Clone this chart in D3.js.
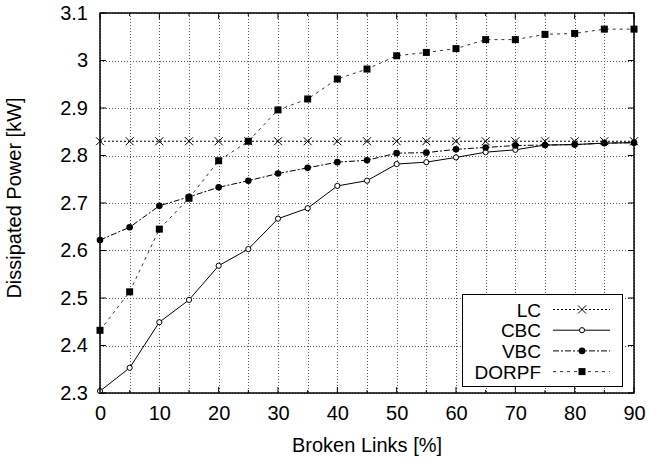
<!DOCTYPE html>
<html>
<head>
<meta charset="utf-8">
<script src="https://cdn.jsdelivr.net/npm/d3@7"></script>
<style>
  body { margin: 0; background: #fff; }
  svg { display: block; font-family: "Liberation Sans", Arial, Helvetica, sans-serif; }
</style>
</head>
<body>
<div id="chart"></div>
<script>
// data
const brokenLinks = [0, 5, 10, 15, 20, 25, 30, 35, 40, 45, 50, 55, 60, 65, 70, 75, 80, 85, 90];
const lcPower    = [2.83, 2.83, 2.83, 2.83, 2.83, 2.83, 2.83, 2.83, 2.83, 2.83, 2.83, 2.83, 2.83, 2.83, 2.83, 2.83, 2.83, 2.83, 2.83];
const cbcPower   = [2.304, 2.353, 2.449, 2.496, 2.568, 2.603, 2.667, 2.689, 2.736, 2.747, 2.782, 2.786, 2.796, 2.807, 2.812, 2.822, 2.823, 2.826, 2.827];
const vbcPower   = [2.622, 2.649, 2.694, 2.713, 2.733, 2.747, 2.762, 2.774, 2.786, 2.790, 2.805, 2.806, 2.813, 2.817, 2.821, 2.822, 2.823, 2.826, 2.827];
const dorpfPower = [2.432, 2.513, 2.645, 2.710, 2.789, 2.830, 2.896, 2.919, 2.961, 2.982, 3.010, 3.017, 3.025, 3.044, 3.044, 3.055, 3.057, 3.066, 3.066];

const xTicks = [0, 10, 20, 30, 40, 50, 60, 70, 80, 90];
const xMinorTicks = [5, 15, 25, 35, 45, 55, 65, 75, 85];
const yTicks = [2.3, 2.4, 2.5, 2.6, 2.7, 2.8, 2.9, 3.0, 3.1];

const series = [
    { name: 'LC',    values: lcPower,    dash: '2,2',         marker: 'cross' },
    { name: 'CBC',   values: cbcPower,   dash: null,          marker: 'open' },
    { name: 'VBC',   values: vbcPower,   dash: '6,2,2,2',     marker: 'dot' },
    { name: 'DORPF', values: dorpfPower, dash: '3,4',         marker: 'square' }
];

const width = 649, height = 459;
const plotLeft = 100, plotRight = 634, plotTop = 13, plotBottom = 393;

const svg = d3.select('#chart').append('svg')
    .attr('width', width)
    .attr('height', height);

const x = d3.scaleLinear().domain([0, 90]).range([plotLeft, plotRight]);
const y = d3.scaleLinear().domain([2.3, 3.1]).range([plotBottom, plotTop]);

// grid
const grid = svg.append('g').attr('stroke', '#555').attr('stroke-width', 1).attr('stroke-dasharray', '1,2');
grid.selectAll('.vg').data(xTicks.concat(xMinorTicks)).enter().append('line')
    .attr('x1', d => Math.round(x(d)) + 0.5).attr('x2', d => Math.round(x(d)) + 0.5)
    .attr('y1', plotTop).attr('y2', plotBottom);
grid.selectAll('.hg').data(yTicks).enter().append('line')
    .attr('y1', d => Math.round(y(d)) + 0.5).attr('y2', d => Math.round(y(d)) + 0.5)
    .attr('x1', plotLeft).attr('x2', plotRight);

// axes (tick labels only, frame drawn separately)
const xAxis = d3.axisBottom(x).tickValues(xTicks).tickSize(0).tickPadding(13).tickFormat(d3.format('d'));
const yAxis = d3.axisLeft(y).tickValues(yTicks).tickSize(0).tickPadding(12).tickFormat(d => d === 3 ? '3' : d3.format('.1f')(d));

const gx = svg.append('g').attr('transform', `translate(0,${plotBottom})`).call(xAxis);
const gy = svg.append('g').attr('transform', `translate(${plotLeft},0)`).call(yAxis);
[gx, gy].forEach(g => {
    g.select('.domain').remove();
    g.selectAll('text').attr('font-size', 20).attr('fill', '#000')
        .attr('font-family', '"Liberation Sans", Arial, sans-serif');
});

// inward tick marks on all four sides
const ticks = svg.append('g').attr('stroke', '#000').attr('stroke-width', 1);
xTicks.forEach(t => {
    ticks.append('line').attr('x1', x(t)).attr('x2', x(t)).attr('y1', plotBottom).attr('y2', plotBottom - 6);
    ticks.append('line').attr('x1', x(t)).attr('x2', x(t)).attr('y1', plotTop).attr('y2', plotTop + 6);
});
xMinorTicks.forEach(t => {
    ticks.append('line').attr('x1', x(t)).attr('x2', x(t)).attr('y1', plotBottom).attr('y2', plotBottom - 3);
    ticks.append('line').attr('x1', x(t)).attr('x2', x(t)).attr('y1', plotTop).attr('y2', plotTop + 3);
});
yTicks.forEach(t => {
    ticks.append('line').attr('y1', y(t)).attr('y2', y(t)).attr('x1', plotLeft).attr('x2', plotLeft + 6);
    ticks.append('line').attr('y1', y(t)).attr('y2', y(t)).attr('x1', plotRight).attr('x2', plotRight - 6);
});

// lines
const line = d3.line().x((d, i) => x(brokenLinks[i])).y(d => y(d));
series.forEach(s => {
    svg.append('path')
        .datum(s.values)
        .attr('fill', 'none')
        .attr('stroke', s.name === 'DORPF' ? '#333' : '#000')
        .attr('stroke-width', 1)
        .attr('stroke-dasharray', s.dash)
        .attr('d', line);
});

function drawMarker(g, type, cx, cy) {
    if (type === 'cross') {
        g.append('path')
            .attr('d', `M${cx - 4},${cy - 4}L${cx + 4},${cy + 4}M${cx - 4},${cy + 4}L${cx + 4},${cy - 4}`)
            .attr('stroke', '#000').attr('stroke-width', 1).attr('fill', 'none');
    } else if (type === 'open') {
        g.append('circle').attr('cx', cx).attr('cy', cy).attr('r', 2.6)
            .attr('fill', '#fff').attr('stroke', '#000').attr('stroke-width', 1);
    } else if (type === 'dot') {
        g.append('circle').attr('cx', cx).attr('cy', cy).attr('r', 3.3).attr('fill', '#000');
    } else {
        g.append('rect').attr('x', cx - 3.5).attr('y', cy - 3.5).attr('width', 7).attr('height', 7).attr('fill', '#000');
    }
}

series.forEach(s => {
    const g = svg.append('g');
    s.values.forEach((v, i) => drawMarker(g, s.marker, x(brokenLinks[i]), y(v)));
});

// frame
svg.append('rect')
    .attr('x', plotLeft).attr('y', plotTop)
    .attr('width', plotRight - plotLeft).attr('height', plotBottom - plotTop)
    .attr('fill', 'none').attr('stroke', '#000').attr('stroke-width', 1.5);

// axis titles
svg.append('text')
    .attr('x', (plotLeft + plotRight) / 2).attr('y', 452)
    .attr('text-anchor', 'middle').attr('font-size', 20)
    .text('Broken Links [%]');

svg.append('text')
    .attr('transform', 'translate(21,198) rotate(-90)')
    .attr('text-anchor', 'middle').attr('font-size', 20)
    .text('Dissipated Power [kW]');

// legend
const legend = svg.append('g');
legend.append('rect')
    .attr('x', 462.5).attr('y', 294.5).attr('width', 160).attr('height', 92)
    .attr('fill', '#fff').attr('stroke', '#000').attr('stroke-width', 1);

series.forEach((s, i) => {
    const ly = 309.5 + i * 20.7;
    legend.append('text')
        .attr('x', 541).attr('y', ly + 7)
        .attr('text-anchor', 'end').attr('font-size', 19)
        .text(s.name);
    legend.append('line')
        .attr('x1', 553).attr('x2', 610).attr('y1', ly).attr('y2', ly)
        .attr('stroke', s.name === 'DORPF' ? '#333' : '#000')
        .attr('stroke-width', 1)
        .attr('stroke-dasharray', s.dash);
    drawMarker(legend, s.marker, 582, ly);
});
</script>
</body>
</html>
